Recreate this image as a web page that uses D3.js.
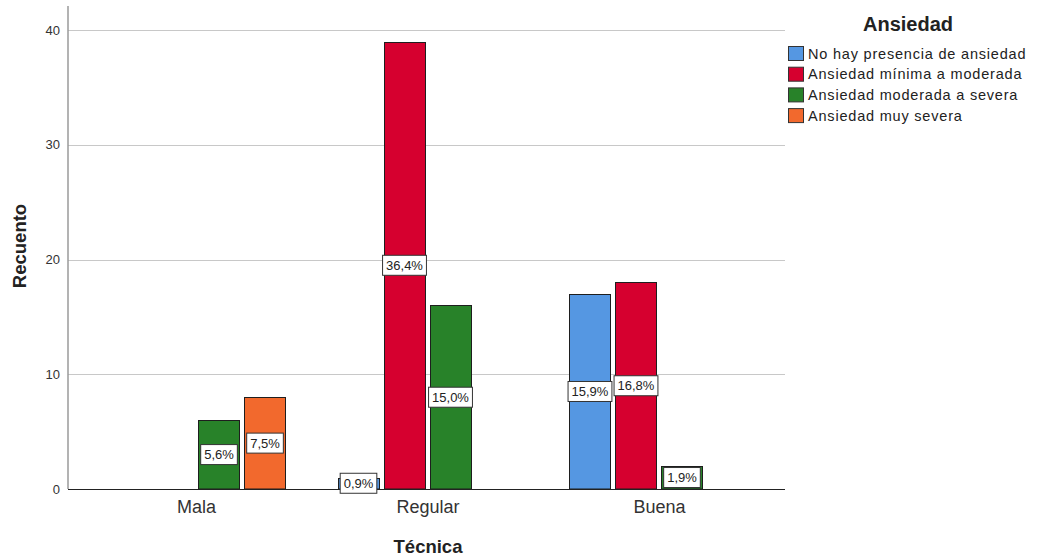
<!DOCTYPE html>
<html><head><meta charset="utf-8">
<script src="https://cdn.jsdelivr.net/npm/d3@7"></script>
<style>body{margin:0;background:#fff;} svg{display:block;font-family:Arial,"Liberation Sans",sans-serif;}</style>
</head><body><svg id="c" width="1037" height="558"></svg>
<script>
const categories = ["Mala", "Regular", "Buena"];
const series = ["No hay presencia de ansiedad", "Ansiedad mínima a moderada", "Ansiedad moderada a severa", "Ansiedad muy severa"];
const colors = ["#5597e2", "#d6002f", "#288229", "#f2692d"];
const valNoHay = [0, 1, 17];
const valMinima = [0, 39, 18];
const valModerada = [6, 16, 2];
const valMuySevera = [8, 0, 0];
const pctNoHay = [null, "0,9%", "15,9%"];
const pctMinima = [null, "36,4%", "16,8%"];
const pctModerada = ["5,6%", "15,0%", "1,9%"];
const pctMuySevera = ["7,5%", null, null];
const yTicks = [0, 10, 20, 30, 40];

const values = [valNoHay, valMinima, valModerada, valMuySevera];
const pcts = [pctNoHay, pctMinima, pctModerada, pctMuySevera];

const svg = d3.select("#c");
const mLeft = 68, mRight = 785, mBottom = 489, mTop = 6;
const x = d3.scalePoint().domain(categories).range([mLeft, 787]).padding(0.553);
const xs = d3.scaleBand().domain(series).range([-92, 92]).paddingInner(4/46).paddingOuter(2/46);
const y = d3.scaleLinear().domain([0, 42.1]).range([mBottom, mTop]);

// gridlines
svg.append("g").selectAll("line").data(yTicks.filter(d=>d>0)).join("line")
  .attr("x1", mLeft).attr("x2", mRight).attr("y1", d=>Math.round(y(d))+0.5).attr("y2", d=>Math.round(y(d))+0.5)
  .attr("stroke", "#c8c8c8").attr("stroke-width", 1);

// y axis
const yAxis = svg.append("g").attr("transform", `translate(${mLeft},0)`)
  .call(d3.axisLeft(y).tickValues(yTicks).tickSize(0).tickPadding(8));
yAxis.select(".domain").remove();
yAxis.selectAll("text").attr("font-size", 13).attr("fill", "#333").attr("font-family", "Arial, 'Liberation Sans', sans-serif");
svg.append("line").attr("x1", mLeft).attr("x2", mLeft).attr("y1", mTop).attr("y2", mBottom)
  .attr("stroke", "#9a9a9a").attr("stroke-width", 1.5);

// bars
const data = [];
categories.forEach((c, i) => series.forEach((s, j) => {
  data.push({c, s, j, v: values[j][i], p: pcts[j][i]});
}));
const bars = data.filter(d => d.v > 0);
svg.append("g").selectAll("rect").data(bars).join("rect")
  .attr("x", d => Math.round(x(d.c) + xs(d.s)) + 0.5)
  .attr("y", d => Math.round(y(d.v)) + 0.5)
  .attr("width", Math.round(xs.bandwidth()) - 1)
  .attr("height", d => mBottom - Math.round(y(d.v)) - 0.5)
  .attr("fill", d => colors[d.j])
  .attr("stroke", "#1e1e1e").attr("stroke-width", 1);

// x axis line
svg.append("line").attr("x1", mLeft).attr("x2", mRight).attr("y1", mBottom+0.5).attr("y2", mBottom+0.5)
  .attr("stroke", "#222").attr("stroke-width", 1);

// x axis labels
const xAxis = svg.append("g").attr("transform", `translate(0,${mBottom})`)
  .call(d3.axisBottom(x).tickSize(0).tickPadding(11));
xAxis.select(".domain").remove();
xAxis.selectAll("text").attr("font-size", 18).attr("fill", "#333").attr("font-family", "Arial, 'Liberation Sans', sans-serif");

// value labels
const lab = svg.append("g").selectAll("g").data(bars.filter(d => d.p)).join("g")
  .attr("transform", d => `translate(${x(d.c) + xs(d.s) + xs.bandwidth()/2},${(y(d.v)+y(0))/2})`);
lab.append("text").text(d => d.p).attr("text-anchor", "middle").attr("dy", "0.36em")
  .attr("font-size", 13).attr("fill", "#222");
lab.each(function(){
  const g = d3.select(this);
  const w = g.select("text").node().getComputedTextLength();
  g.insert("rect", "text").attr("x", -w/2 - 3.5).attr("y", -10).attr("width", w + 7).attr("height", 20)
    .attr("fill", "#fff").attr("stroke", "#333").attr("stroke-width", 1);
});

// axis titles
svg.append("text").attr("x", 428).attr("y", 553).attr("text-anchor", "middle")
  .attr("font-size", 18.5).attr("font-weight", "bold").attr("fill", "#222").text("Técnica");
svg.append("text").attr("transform", "translate(26,246) rotate(-90)").attr("text-anchor", "middle")
  .attr("font-size", 18.5).attr("font-weight", "bold").attr("fill", "#222").text("Recuento");

// legend
svg.append("text").attr("x", 908).attr("y", 31).attr("text-anchor", "middle")
  .attr("font-size", 20).attr("font-weight", "bold").attr("fill", "#222").text("Ansiedad");
const leg = svg.append("g").selectAll("g").data(series).join("g")
  .attr("transform", (d, i) => `translate(788,${46 + i*20.7})`);
leg.append("rect").attr("x", 0.5).attr("y", 0.5).attr("width", 15).attr("height", 14)
  .attr("fill", (d, i) => colors[i]).attr("stroke", "#333");
leg.append("text").attr("x", 20).attr("y", 12.5).attr("font-size", 14.5).attr("fill", "#222")
  .attr("letter-spacing", 0.8).text(d => d);
</script></body></html>
